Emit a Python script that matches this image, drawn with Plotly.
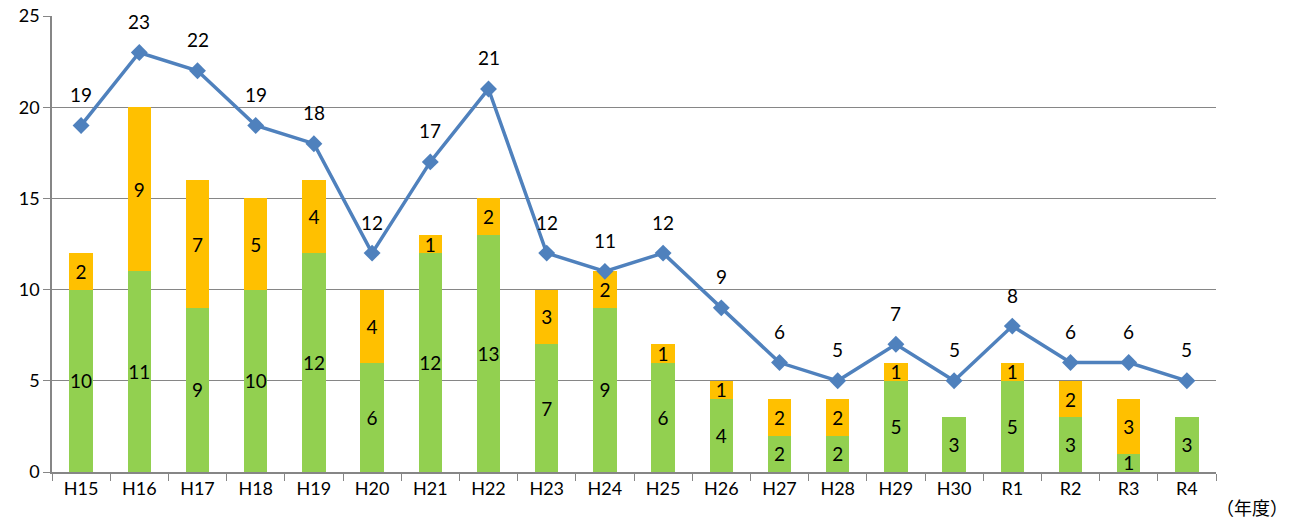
import plotly.graph_objects as go

categories = ["H15", "H16", "H17", "H18", "H19", "H20", "H21", "H22", "H23", "H24",
              "H25", "H26", "H27", "H28", "H29", "H30", "R1", "R2", "R3", "R4"]
green_vals = [10, 11, 9, 10, 12, 6, 12, 13, 7, 9, 6, 4, 2, 2, 5, 3, 5, 3, 1, 3]
orange_vals = [2, 9, 7, 5, 4, 4, 1, 2, 3, 2, 1, 1, 2, 2, 1, 0, 1, 2, 3, 0]
total_vals = [19, 23, 22, 19, 18, 12, 17, 21, 12, 11, 12, 9, 6, 5, 7, 5, 8, 6, 6, 5]
y_ticks = [0, 5, 10, 15, 20, 25]

FONT = "Lato, 'Open Sans', sans-serif"
FS = 18
LFS = 19

fig = go.Figure()
fig.add_trace(go.Bar(
    x=categories, y=green_vals, marker=dict(color="#92D050", line=dict(width=0)),
    text=[str(v) if v else "" for v in green_vals], textposition="inside",
    insidetextanchor="middle", constraintext="none", textangle=0,
    textfont=dict(size=LFS, color="black", family=FONT), width=0.4, name="g"))
fig.add_trace(go.Bar(
    x=categories, y=orange_vals, marker=dict(color="#FFC000", line=dict(width=0)),
    text=[str(v) if v else "" for v in orange_vals], textposition="inside",
    insidetextanchor="middle", constraintext="none", textangle=0,
    textfont=dict(size=LFS, color="black", family=FONT), width=0.4, name="o"))
fig.add_trace(go.Scatter(
    x=categories, y=total_vals, mode="lines+markers",
    line=dict(color="#4F81BD", width=3.5),
    marker=dict(symbol="diamond", size=13, color="#4F81BD"), name="t"))

for c, v in zip(categories, total_vals):
    fig.add_annotation(x=c, y=v, text=str(v), showarrow=False, yshift=31,
                       font=dict(size=LFS, color="black", family=FONT))

fig.add_annotation(xref="paper", yref="paper", x=0.998, y=-0.077, xanchor="left",
                   yanchor="middle", text="（年度）", showarrow=False,
                   font=dict(size=18, color="black", family="'Noto Sans CJK JP', sans-serif"))

fig.update_layout(
    barmode="stack", width=1299, height=522, showlegend=False,
    plot_bgcolor="white", paper_bgcolor="white",
    margin=dict(l=52, r=83, t=16, b=50),
    uniformtext=dict(mode="show", minsize=10),
    font=dict(family=FONT, size=FS, color="black"),
    xaxis=dict(type="category", range=[-0.5, len(categories) - 0.5], automargin=False,
               showline=True, linecolor="#868686", linewidth=1.5,
               ticks="outside", tickson="boundaries", ticklen=7, tickcolor="#868686",
               tickfont=dict(size=FS, family=FONT), showgrid=False),
    yaxis=dict(range=[0, 25], tickvals=y_ticks, automargin=False, showgrid=True,
               gridcolor="#868686", gridwidth=1.2, showline=True, linecolor="#868686",
               linewidth=1.5, ticks="outside", ticklen=7, tickcolor="#868686",
               zeroline=False, tickfont=dict(size=FS, family=FONT)),
)

fig.write_html("out.html", config={"displayModeBar": False},
               post_script="document.body.style.margin='0px';document.body.style.overflow='hidden';")
